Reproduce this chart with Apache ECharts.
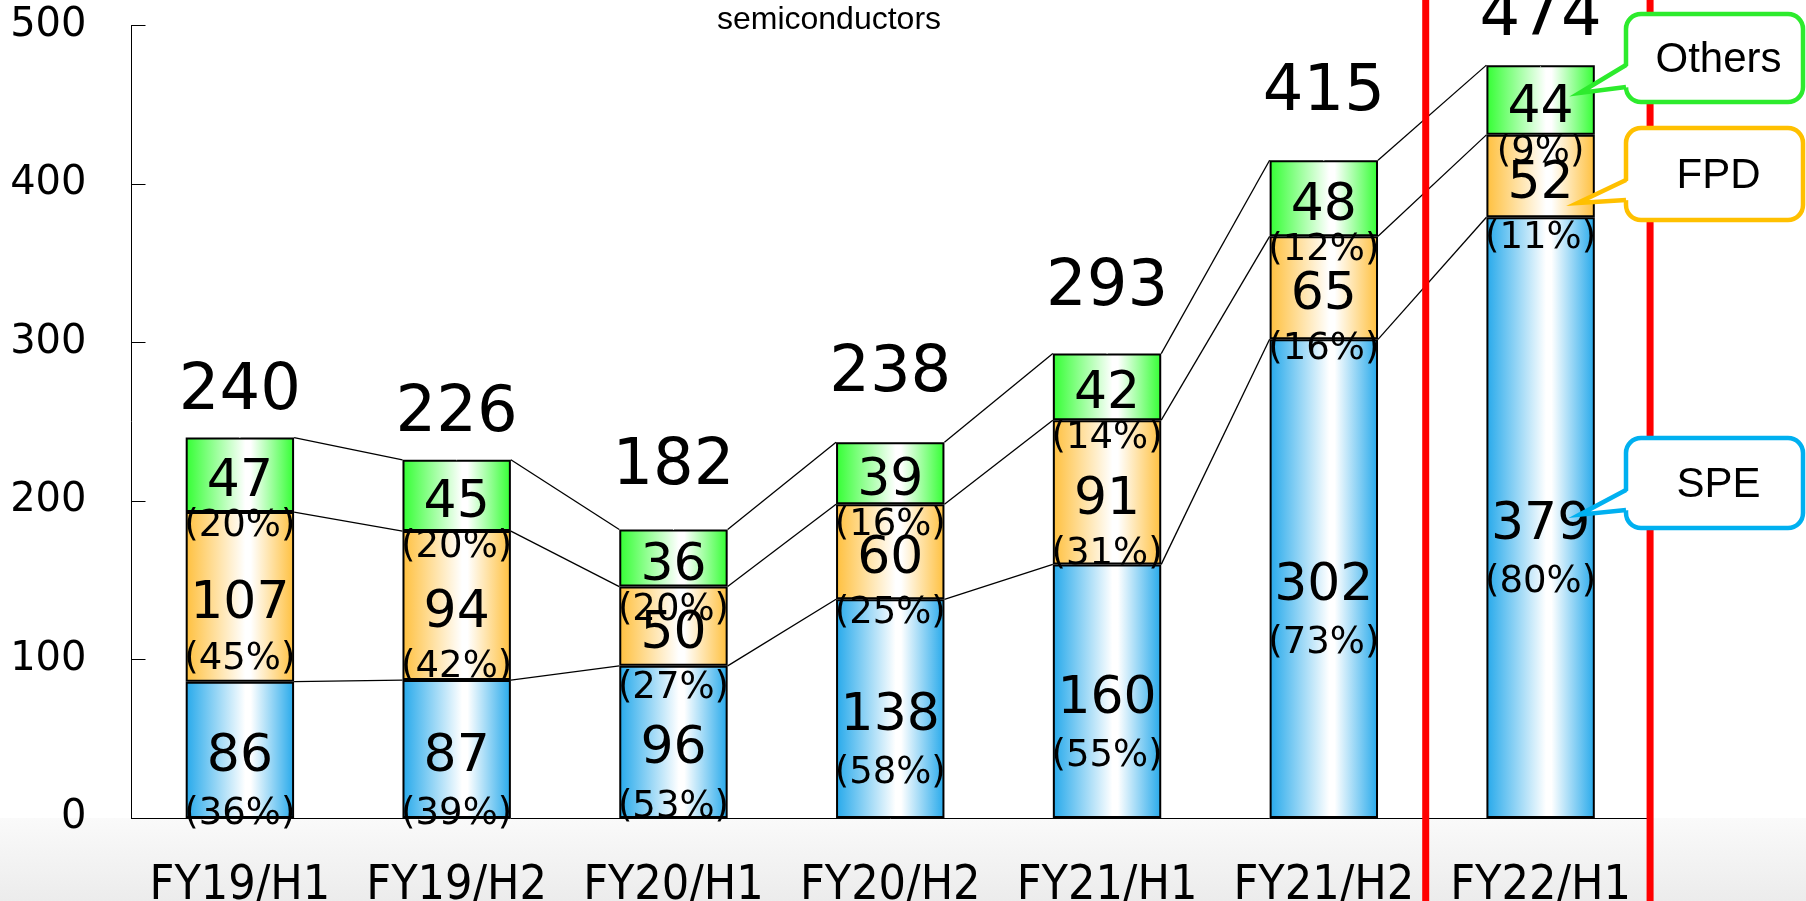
<!DOCTYPE html>
<html><head><meta charset="utf-8">
<script src="https://cdn.jsdelivr.net/npm/echarts@6/dist/echarts.min.js"></script>
<style>html,body{margin:0;padding:0;background:#fff}#c{width:1806px;height:901px}</style>
</head><body><div id="c"></div>
<script>
const categories = ['FY19/H1','FY19/H2','FY20/H1','FY20/H2','FY21/H1','FY21/H2','FY22/H1'];
const spe = [86, 87, 96, 138, 160, 302, 379];
const fpd = [107, 94, 50, 60, 91, 65, 52];
const others = [47, 45, 36, 39, 42, 48, 44];
const totals = [240, 226, 182, 238, 293, 415, 474];
const spePct = [36, 39, 53, 58, 55, 73, 80];
const fpdPct = [45, 42, 27, 25, 31, 16, 11];
const othersPct = [20, 20, 20, 16, 14, 12, 9];
const yMin = 0, yMax = 500, yStep = 100;
const subtitle = 'semiconductors';
const calloutNames = ['Others', 'FPD', 'SPE'];
// extra lift (px) of each total label above its bar, as placed in the original slide
const totalLabelLift = [0, 0, 17, 21, 20, 21, 3];

const FONT = "'DejaVu Sans', Verdana, sans-serif";
const XFONT = "'DejaVu Sans Condensed', 'DejaVu Sans', sans-serif";

function grad(c) {
  return new echarts.graphic.LinearGradient(0, 0, 1, 0, [
    {offset: 0, color: c}, {offset: 0.55, color: '#ffffff'},
    {offset: 0.6, color: '#ffffff'}, {offset: 1, color: c}
  ]);
}
function barSeries(name, data, pct, color, pLH) {
  return {
    type: 'bar', name, stack: 'total', data, barWidth: '50%', z: 2,
    itemStyle: {color: grad(color), borderColor: '#000', borderWidth: 2},
    label: {
      show: true, position: 'inside', offset: [0, pLH / 2 + 8],
      formatter: p => `{v|${p.value}}\n{p|(${pct[p.dataIndex]}%)}`,
      rich: {
        v: {fontSize: 52, lineHeight: 56, fontFamily: FONT, color: '#000'},
        p: {fontSize: 37, lineHeight: pLH, fontFamily: FONT, color: '#000'}
      }
    }
  };
}

// connector line data: cumulative tops of each segment for neighbouring bars
const cum1 = spe.map(v => v);
const cum2 = spe.map((v, i) => v + fpd[i]);
const cum3 = spe.map((v, i) => v + fpd[i] + others[i]);
const connData = [];
for (let i = 0; i < categories.length - 1; i++) {
  connData.push([i, cum1[i], cum1[i + 1], cum2[i], cum2[i + 1], cum3[i], cum3[i + 1]]);
}

const chart = echarts.init(document.getElementById('c'), null, {renderer: 'canvas'});
const option = {
  backgroundColor: '#fff',
  animation: false,
  grid: {left: 131.5, right: 157, top: 25.5, bottom: 83, containLabel: false, outerBoundsMode: 'none'},
  xAxis: {
    type: 'category', data: categories,
    axisLine: {lineStyle: {color: '#000', width: 1}},
    axisTick: {show: false},
    axisLabel: {interval: 0, fontSize: 48, fontFamily: XFONT, color: '#000', margin: 45}
  },
  yAxis: {
    type: 'value', min: yMin, max: yMax, interval: yStep,
    splitLine: {show: false},
    axisLine: {show: true, lineStyle: {color: '#000', width: 1}},
    axisTick: {show: true, inside: true, length: 14, lineStyle: {color: '#000'}},
    axisLabel: {fontSize: 40, fontFamily: FONT, color: '#000', margin: 45}
  },
  series: [
    barSeries('SPE', spe, spePct, '#26A9EB', 58),
    barSeries('FPD', fpd, fpdPct, '#FFC03E', 52),
    barSeries('Others', others, othersPct, '#33FF33', 32),
    {
      type: 'custom', name: 'connectors', data: connData, z: 1, silent: true,
      encode: {x: 0, y: 1},
      renderItem: function (params, api) {
        const i = api.value(0);
        const bw = api.size([1, 0])[0] * 0.5;
        const kids = [];
        for (let k = 0; k < 3; k++) {
          const p0 = api.coord([i, api.value(1 + 2 * k)]);
          const p1 = api.coord([i + 1, api.value(2 + 2 * k)]);
          kids.push({
            type: 'line',
            shape: {x1: p0[0] + bw / 2, y1: p0[1], x2: p1[0] - bw / 2, y2: p1[1]},
            style: {stroke: '#000', lineWidth: 1.3}
          });
        }
        return {type: 'group', children: kids};
      }
    },
    {
      type: 'scatter', name: 'total', symbolSize: 1, z: 5,
      data: totals.map((v, i) => ({value: v, label: {distance: 13 + totalLabelLift[i]}})),
      itemStyle: {color: '#fff', opacity: 1},
      label: {show: true, position: 'top', distance: 13, fontSize: 64, fontFamily: FONT,
        color: '#000', opacity: 1, textBorderWidth: 0}
    }
  ]
};
chart.setOption(option);

// decorations computed from the chart's scales
const px = (ci, v) => chart.convertToPixel({gridIndex: 0}, [ci, v]);
const last = categories.length - 1;
const band = px(1, 0)[0] - px(0, 0)[0];
const cx = px(last, 0)[0];
const axisY = px(0, 0)[1];
const H = 901, W = 1806;
const red1 = cx - 0.53 * band, red2 = cx + 0.505 * band;

const tips = [
  [cx + 39, px(last, spe[last] + fpd[last] + others[last] / 2)[1] - 7],
  [cx + 37, px(last, spe[last] + fpd[last] / 2)[1] + 27],
  [cx + 39, px(last, spe[last] / 2)[1] - 3]
];
const boxes = [
  {top: 14, bot: 102, b1: 65, b2: 87, color: '#2DEB2D'},
  {top: 128, bot: 220, b1: 180, b2: 200, color: '#FFC000'},
  {top: 438, bot: 528, b1: 490, b2: 510, color: '#00B0F0'}
];
const L = 1626, R = 1803;
const graphics = [
  {type: 'rect', z: -1, silent: true, shape: {x: 0, y: axisY, width: W, height: H - axisY},
   style: {fill: new echarts.graphic.LinearGradient(0, 0, 0, 1, [{offset: 0, color: '#FAFAFA'}, {offset: 1, color: '#ECECEC'}])}},
  {type: 'text', z: 10, x: 829, y: 20, style: {text: subtitle, fontSize: 32, fontFamily: "'Liberation Sans', Arial, sans-serif", fill: '#000', align: 'center', verticalAlign: 'middle'}},
  {type: 'rect', z: 50, shape: {x: red1 - 3.5, y: 0, width: 7, height: H}, style: {fill: '#FF0000'}},
  {type: 'rect', z: 50, shape: {x: red2 - 3.5, y: 0, width: 7, height: H}, style: {fill: '#FF0000'}}
];
boxes.forEach((b, k) => {
  const t = tips[k];
  graphics.push({type: 'rect', z: 100, shape: {x: L, y: b.top, width: R - L, height: b.bot - b.top, r: 15},
    style: {fill: '#fff', stroke: b.color, lineWidth: 4.5}});
  graphics.push({type: 'polygon', z: 101, shape: {points: [[L + 4, b.b1], t, [L + 4, b.b2]]},
    style: {fill: '#fff', stroke: null}});
  graphics.push({type: 'polyline', z: 102, shape: {points: [[L, b.b1], t, [L, b.b2]]},
    style: {stroke: b.color, lineWidth: 4.5, fill: null, lineJoin: 'miter'}});
  graphics.push({type: 'text', z: 103, x: (L + R) / 2 + 4, y: (b.top + b.bot) / 2 + 2,
    style: {text: calloutNames[k], fontSize: 42, fontFamily: "'Liberation Sans', Arial, sans-serif", fill: '#000', align: 'center', verticalAlign: 'middle'}});
});
chart.setOption({graphic: graphics});
</script>
</body></html>
